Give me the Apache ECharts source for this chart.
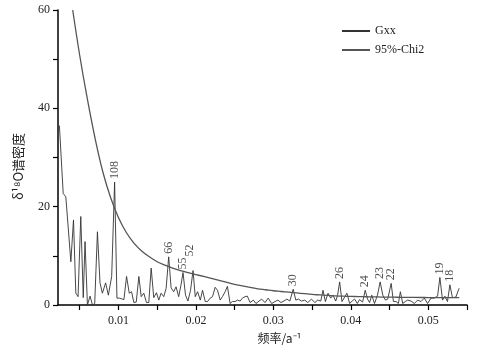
<!DOCTYPE html>
<html>
<head>
<meta charset="utf-8">
<script src="https://cdn.jsdelivr.net/npm/echarts@6/dist/echarts.min.js"></script>
<style>
  html, body { margin: 0; padding: 0; background: #fff; }
  #chart { width: 482px; height: 353px; }
</style>
</head>
<body>
<div id="chart"></div>
<script>
// Gxx spectrum, frequency (1/a) and density
const gxxFreq = [
  0.00238, 0.00287, 0.00321, 0.00386, 0.00420, 0.00450, 0.00479, 0.00514, 0.00546, 0.00569,
  0.00600, 0.00634, 0.00665, 0.00694, 0.00729, 0.00762, 0.00793, 0.00835, 0.00870, 0.00913,
  0.00951, 0.00981, 0.01015, 0.01071, 0.01105, 0.01140, 0.01170, 0.01199, 0.01230, 0.01264,
  0.01294, 0.01328, 0.01362, 0.01392, 0.01423, 0.01456, 0.01491, 0.01521, 0.01551, 0.01585,
  0.01616, 0.01649, 0.01680, 0.01713, 0.01744, 0.01778, 0.01808, 0.01834, 0.01866, 0.01898,
  0.01931, 0.01963, 0.01992, 0.02022, 0.02057, 0.02086, 0.02121, 0.02150, 0.02185, 0.02215,
  0.02249, 0.02279, 0.02314, 0.02343, 0.02378, 0.02407, 0.02442, 0.02472, 0.02506, 0.02536,
  0.02571, 0.02600, 0.02635, 0.02665, 0.02699, 0.02742, 0.02776, 0.02815, 0.02850, 0.02892,
  0.02934, 0.02978, 0.03021, 0.03059, 0.03098, 0.03136, 0.03175, 0.03213, 0.03256, 0.03290,
  0.03323, 0.03364, 0.03406, 0.03445, 0.03492, 0.03535, 0.03573, 0.03612, 0.03641, 0.03672,
  0.03706, 0.03740, 0.03770, 0.03805, 0.03830, 0.03856, 0.03886, 0.03920, 0.03950, 0.03985,
  0.04017, 0.04049, 0.04084, 0.04113, 0.04152, 0.04186, 0.04216, 0.04242, 0.04271, 0.04306,
  0.04344, 0.04379, 0.04413, 0.04447, 0.04477, 0.04521, 0.04550, 0.04585, 0.04614, 0.04640,
  0.04670, 0.04704, 0.04734, 0.04778, 0.04820, 0.04863, 0.04906, 0.04949, 0.04991, 0.05035,
  0.05077, 0.05120, 0.05150, 0.05184, 0.05215, 0.05248, 0.05279, 0.05312, 0.05356, 0.05398
];
const gxxValue = [
  36.5, 22.7, 22.0, 8.8, 17.3, 2.4, 1.7, 18.0, 1.5, 12.9,
  0.0, 1.8, 0.0, 0.3, 14.9, 4.5, 2.4, 4.5, 2.0, 5.8,
  25.0, 1.4, 1.4, 1.1, 5.8, 2.4, 2.7, 0.5, 0.6, 5.8,
  1.7, 2.4, 0.5, 0.5, 7.5, 1.5, 2.5, 1.0, 2.4, 1.7,
  3.4, 9.8, 3.5, 2.7, 3.7, 1.7, 4.1, 6.6, 2.0, 0.8,
  3.0, 7.0, 1.7, 2.7, 1.0, 3.0, 0.7, 0.7, 1.4, 1.7,
  3.6, 3.0, 1.0, 1.7, 2.7, 3.8, 0.3, 0.7, 0.7, 1.0,
  0.8, 1.4, 1.7, 1.8, 0.5, 1.0, 0.3, 0.8, 1.2, 0.5,
  1.4, 0.3, 0.7, 1.0, 0.5, 0.8, 1.2, 0.8, 3.2, 1.0,
  1.2, 0.8, 1.0, 0.5, 1.2, 0.5, 1.0, 0.8, 3.0, 0.7,
  2.4, 1.4, 2.0, 0.8, 2.0, 4.7, 0.7, 1.6, 2.4, 0.3,
  0.8, 1.2, 0.3, 1.1, 0.6, 3.0, 1.2, 0.5, 2.0, 0.3,
  2.0, 4.7, 2.0, 1.0, 1.2, 4.4, 0.7, 0.7, 0.3, 2.7,
  0.3, 0.7, 1.0, 0.8, 0.3, 1.0, 0.7, 1.4, 0.3, 1.4,
  1.4, 1.8, 5.6, 1.0, 1.8, 0.7, 4.1, 1.5, 1.6, 3.4
];

// 95% red-noise confidence curve, read every 0.001
const chiFreq = [0.0041, 0.005, 0.006, 0.007, 0.008, 0.009, 0.010, 0.011, 0.012, 0.013,
  0.014, 0.015, 0.016, 0.017, 0.018, 0.019, 0.020, 0.021, 0.022, 0.023,
  0.024, 0.025, 0.026, 0.027, 0.028, 0.029, 0.030, 0.031, 0.032, 0.033,
  0.034, 0.035, 0.036, 0.037, 0.038, 0.039, 0.040, 0.041, 0.042, 0.043,
  0.044, 0.045, 0.046, 0.047, 0.048, 0.049, 0.050, 0.051, 0.052, 0.053, 0.054];
const chiValue = [60, 50.8, 41.8, 33.8, 27.0, 21.8, 17.8, 14.8, 12.6, 11.0,
  9.8, 8.8, 8.1, 7.5, 7.0, 6.6, 6.2, 5.8, 5.4, 5.0,
  4.6, 4.2, 3.9, 3.6, 3.3, 3.1, 2.9, 2.75, 2.6, 2.45,
  2.3, 2.15, 2.05, 1.95, 1.85, 1.8, 1.75, 1.71, 1.68, 1.65,
  1.62, 1.6, 1.58, 1.56, 1.55, 1.53, 1.52, 1.51, 1.5, 1.49, 1.48];

// labelled peaks (period in years)
const peakFreq = [0.00951, 0.01649, 0.01834, 0.01963, 0.03256, 0.03856, 0.04186, 0.04379,
  0.04521, 0.05150, 0.05279];
const peakLabel = ['108', '66', '55', '52', '30', '26', '24', '23', '22', '19', '18'];

const xLabels = [0.01, 0.02, 0.03, 0.04, 0.05];
const xTicks = [0.005, 0.01, 0.015, 0.02, 0.025, 0.03, 0.035, 0.04, 0.045, 0.05, 0.055];
const yLabels = [0, 20, 40, 60];
const yTicks = [0, 10, 20, 30, 40, 50, 60];

const serif = '"Liberation Serif", "Times New Roman", serif';
const cjk = '"Noto Sans CJK SC", sans-serif';

const chart = echarts.init(document.getElementById('chart'));

const gxxData = gxxFreq.map((f, i) => [f, gxxValue[i]]);
const chiData = chiFreq.map((f, i) => [f, chiValue[i]]);
const peakData = peakFreq.map((f, i) => {
  const k = gxxFreq.indexOf(f);
  const item = { value: [f, gxxValue[k]], label: { formatter: peakLabel[i] } };
  // the "52" label sits a little to the right of its peak in the original
  if (peakLabel[i] === '52') item.label.offset = [11, -3];
  return item;
});

chart.setOption({
  animation: false,
  backgroundColor: '#fff',
  grid: { left: 58, right: 15, top: 10, bottom: 48 },
  legend: {
    data: ['Gxx', '95%-Chi2'],
    orient: 'vertical',
    left: 336,
    top: 20,
    itemWidth: 28,
    itemHeight: 10,
    itemGap: 7,
    itemStyle: { opacity: 0 },
    textStyle: { fontFamily: serif, fontSize: 12, color: '#222' }
  },
  xAxis: {
    type: 'value',
    min: 0.0022,
    max: 0.055,
    name: '频率/a⁻¹',
    nameLocation: 'middle',
    nameGap: 27,
    nameTextStyle: { fontFamily: cjk, fontSize: 12, color: '#222', padding: [0, 0, 0, 34] },
    axisLine: { lineStyle: { color: '#000', width: 1.5 } },
    axisTick: { customValues: xTicks, length: 5, lineStyle: { color: '#000', width: 1.2 } },
    axisLabel: { customValues: xLabels, fontFamily: serif, fontSize: 12, color: '#222', margin: 10 },
    splitLine: { show: false }
  },
  yAxis: {
    type: 'value',
    min: 0,
    max: 60,
    name: 'δ¹⁸O谱密度',
    nameLocation: 'middle',
    nameGap: 33,
    nameTextStyle: { fontFamily: cjk, fontSize: 13, color: '#222', padding: [0, 18, 0, 0] },
    axisLine: { show: true, lineStyle: { color: '#000', width: 1.5 } },
    axisTick: { customValues: yTicks, length: 5, lineStyle: { color: '#000', width: 1.2 } },
    axisLabel: { customValues: yLabels, fontFamily: serif, fontSize: 12, color: '#222', margin: 8 },
    splitLine: { show: false }
  },
  series: [
    {
      name: 'Gxx',
      type: 'line',
      data: gxxData,
      symbol: 'none',
      lineStyle: { color: '#333', width: 0.9 },
      itemStyle: { color: '#333' },
      z: 2
    },
    {
      name: '95%-Chi2',
      type: 'line',
      data: chiData,
      smooth: 0.4,
      symbol: 'none',
      lineStyle: { color: '#555', width: 1.3 },
      itemStyle: { color: '#777' },
      z: 3
    },
    {
      name: 'peaks',
      type: 'scatter',
      data: peakData,
      symbolSize: 0,
      silent: true,
      label: {
        show: true,
        position: 'top',
        distance: 3,
        rotate: 90,
        align: 'left',
        verticalAlign: 'middle',
        fontFamily: serif,
        fontSize: 12,
        color: '#222'
      }
    }
  ]
});
</script>
</body>
</html>
